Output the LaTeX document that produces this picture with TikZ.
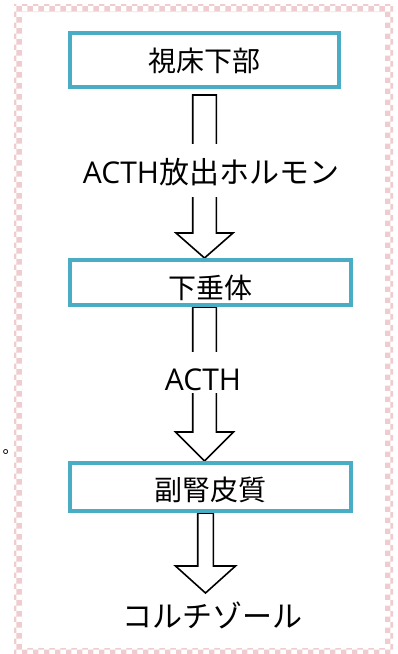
\documentclass[tikz,border=0pt]{standalone}
\usepackage{fontspec}
\setmainfont{Noto Sans CJK JP}
\newfontfamily\latinfont{Open Sans}
\usetikzlibrary{calc,patterns}
\definecolor{boxblue}{HTML}{4BACC6}
\definecolor{framepink}{HTML}{EFCCCF}
\pgfdeclarelayer{bg}
\pgfsetlayers{bg,main}
\tikzset{
  box/.style={draw=boxblue, line width=4pt, inner sep=0pt, text depth=0pt,
    font=\fontsize{28}{34}\selectfont},
  lbl/.style={fill=white, inner xsep=4pt, font=\fontsize{30}{36}\selectfont},
  hollowarrow/.style={draw=black, fill=white, line width=1.6pt, line join=miter},
  barrow/.style n args={3}{to path={
    let \p1=(\tikztostart), \p2=(\tikztotarget) in
    (\x1-#1,\y1) -- (\x1+#1,\y1) -- (\x1+#1,\y2+#3) -- (\x1+#2,\y2+#3)
    -- (\x2,\y2) -- (\x1-#2,\y2+#3) -- (\x1-#1,\y2+#3) -- cycle}}
}
\begin{document}
\begin{tikzpicture}[x=1pt,y=-1pt]
\useasboundingbox (0,0) rectangle (398,654);
% frame
\fill[pattern=checkerboard, pattern color=framepink, even odd rule]
  (14,4) rectangle (393,656) (22,12) rectangle (385,648);
% boxes
\node[box, minimum width=269pt, minimum height=54pt, text height=22pt] (b1) at (204.5,60) {視床下部};
\node[box, minimum width=281pt, minimum height=45pt, text height=32pt] (b2) at (210.5,282.5) {下垂体};
\node[box, minimum width=281pt, minimum height=48pt, text height=27pt] (b3) at (210.5,487) {副腎皮質};
% arrow end points
\coordinate (a1s) at ([yshift=-6pt]b1.south);
\coordinate (a2s) at (b1.south |- b2.south);
\coordinate (a3b) at (b1.south |- b3.south);
\coordinate (a3s) at ([xshift=1pt]a3b);
\coordinate (a3e) at ([yshift=-80pt]a3s);
\begin{pgfonlayer}{bg}
\draw[hollowarrow, barrow={11.8pt}{28.5pt}{25pt}] (a1s) to (b1.south |- b2.north);
\draw[hollowarrow, barrow={11.8pt}{29pt}{29pt}] (a2s) to (b1.south |- b3.north);
\draw[hollowarrow, barrow={7.8pt}{30pt}{27pt}] (a3s) to (a3e);
\end{pgfonlayer}
% labels
\node[lbl, text height=30pt, text depth=5pt, inner ysep=9pt] (l1) at (211,170.5) {{\latinfont ACTH}放出ホルモン};
\node[lbl, text height=35pt, text depth=0pt, inner ysep=3pt] (l2) at (203,372.5) {\latinfont ACTH};
\node[font=\fontsize{30}{36}\selectfont, anchor=base, inner sep=0pt] (l3) at (212,627) {コルチゾール};
\node[font=\fontsize{16}{16}\selectfont, anchor=base west, inner sep=0pt] (dot) at (2.3,453.6) {。};
\end{tikzpicture}
\end{document}
